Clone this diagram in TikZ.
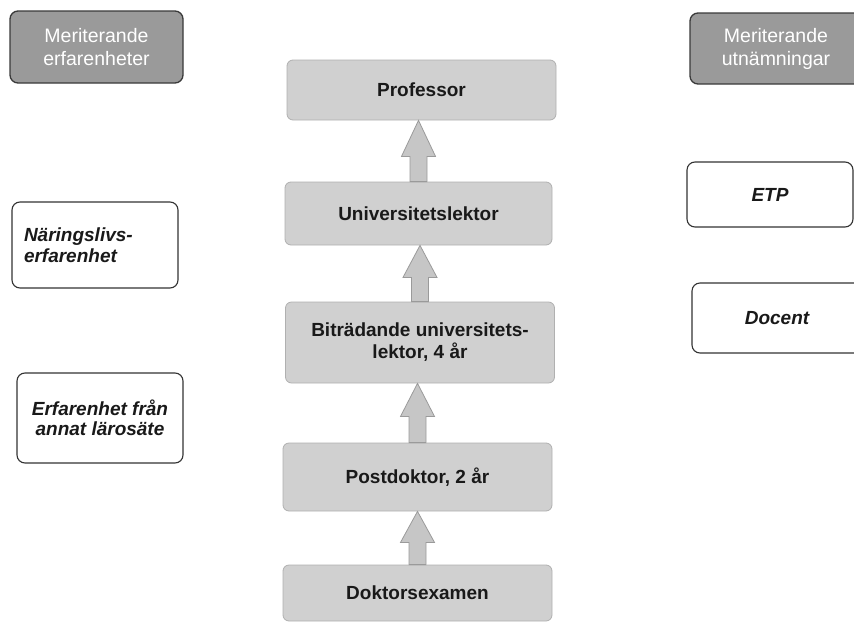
\documentclass[tikz,border=0pt]{standalone}
\usepackage{fontspec}
\setmainfont{Liberation Sans}
\usetikzlibrary{calc}
\definecolor{hdrfill}{HTML}{9A9A9A}
\definecolor{hdrline}{HTML}{3A3A3A}
\definecolor{boxfill}{HTML}{D0D0D0}
\definecolor{boxline}{HTML}{B0B0B0}
\definecolor{arrfill}{HTML}{C6C6C6}
\definecolor{arrline}{HTML}{9A9A9A}
\tikzset{
  hdr/.style={draw=hdrline, line width=1.3pt, fill=hdrfill, rounded corners=8pt,
    text=white, align=center, font=\fontsize{19.5}{23}\selectfont, inner sep=0pt},
  stepbox/.style={draw=boxline, line width=0.8pt, fill=boxfill, rounded corners=6pt,
    text=black!90, align=center, font=\fontsize{19}{22}\selectfont\bfseries, inner sep=0pt},
  meritbox/.style={draw=black!80, line width=1.1pt, fill=white, rounded corners=8pt,
    text=black!90, font=\fontsize{19}{20.5}\selectfont\bfseries\itshape, inner sep=0pt},
  barrow/.style={draw=arrline, line width=0.8pt, fill=arrfill}
}
\begin{document}
\begin{tikzpicture}[x=1pt,y=-1pt]
\useasboundingbox (0,0) rectangle (854,624);
% header boxes
\node[hdr, minimum width=173, minimum height=72] (hl) at (96.5,47) {Meriterande\\erfarenheter};
\node[hdr, minimum width=172, minimum height=71] (hr) at (776,48.5) {Meriterande\\utnämningar};
% career steps
\node[stepbox, minimum width=269, minimum height=60] (prof) at (421.5,90) {Professor};
\node[stepbox, minimum width=267, minimum height=63] (univ) at (418.5,213.5) {Universitetslektor};
\node[stepbox, minimum width=269, minimum height=81] (bit) at (420,342.5) {Biträdande universitets-\\lektor, 4 år};
\node[stepbox, minimum width=269, minimum height=68] (post) at (417.5,477) {Postdoktor, 2 år};
\node[stepbox, minimum width=269, minimum height=56] (dok) at (417.5,593) {Doktorsexamen};
% merit boxes left
\node[meritbox, minimum width=166, minimum height=86, align=left, text width=142] (nar) at (95,245) {Näringslivs-\\erfarenhet};
\node[meritbox, minimum width=166, minimum height=90, align=center] (erf) at (100,418) {Erfarenhet från\\annat lärosäte};
% merit boxes right
\node[meritbox, minimum width=166, minimum height=65, align=center] (etp) at (770,194.5) {ETP};
\node[meritbox, minimum width=170, minimum height=70, align=center] (doc) at (777,318) {Docent};
% block arrows
\foreach \lo/\up/\hl in {univ/prof/36, bit/univ/32, post/bit/33, dok/post/31}{
  \draw[barrow] let \p1=(\lo.north), \p2=(\up.south) in
    (\x1,\y2) -- (\x1+17pt,\y2-\hl pt) -- (\x1+8.5pt,\y2-\hl pt) -- (\x1+8.5pt,\y1)
    -- (\x1-8.5pt,\y1) -- (\x1-8.5pt,\y2-\hl pt) -- (\x1-17pt,\y2-\hl pt) -- cycle;
}
\end{tikzpicture}
\end{document}
